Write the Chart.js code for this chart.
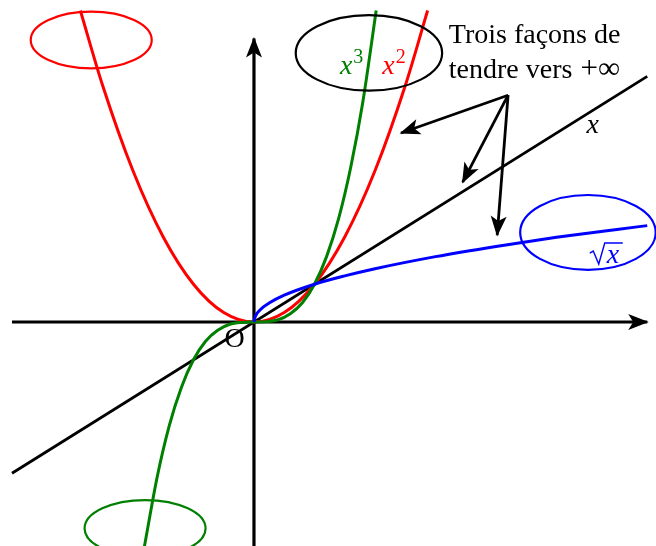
<!DOCTYPE html>
<html>
<head>
<meta charset="utf-8">
<script src="https://cdn.jsdelivr.net/npm/chart.js@4"></script>
<style>
  body { margin: 0; background: #fff; }
  canvas { display: block; }
</style>
</head>
<body>
<canvas id="plot" width="656" height="546"></canvas>
<script>
// points
const xLine = [-4, 6.5];
const yLine = [-4, 6.5];

const xSquare = [-2.87, -2.5, -2, -1.5, -1, -0.5, 0, 0.5, 1, 1.5, 2, 2.5, 2.87];
const ySquare = [8.24, 6.25, 4, 2.25, 1, 0.25, 0, 0.25, 1, 2.25, 4, 6.25, 8.24];

const xCube = [-1.81, -1.6, -1.4, -1.2, -1, -0.8, -0.6, -0.4, -0.2, 0, 0.2, 0.4, 0.6, 0.8, 1, 1.2, 1.4, 1.6, 1.8, 2.02];
const yCube = [-5.93, -4.1, -2.74, -1.73, -1, -0.51, -0.22, -0.06, -0.01, 0, 0.01, 0.06, 0.22, 0.51, 1, 1.73, 2.74, 4.1, 5.83, 8.24];

const xRoot = [0, 0.02, 0.1, 0.25, 0.5, 1, 1.5, 2, 3, 4, 5, 6, 6.5];
const yRoot = [0, 0.14, 0.32, 0.5, 0.71, 1, 1.22, 1.41, 1.73, 2, 2.24, 2.45, 2.55];

// axes ends
const xAxis = [-4, 6.5];
const yAxis = [-6, 7.5];

// the three arrows: one start, three tips
const arrowFrom = [4.2, 6];
const arrowTips = [[2.43, 5], [3.45, 3.7], [4.02, 2.3]];

const pts = (xs, ys) => xs.map((x, i) => ({ x: x, y: ys[i] }));

const curve = (data, color) => ({
    data: data,
    borderColor: color,
    borderWidth: 3,
    showLine: true,
    pointRadius: 0,
    cubicInterpolationMode: 'monotone',
});

const straight = (data, width) => ({
    data: data,
    borderColor: '#000',
    borderWidth: width,
    showLine: true,
    pointRadius: 0,
    tension: 0,
});

// ellipses around the curve ends (centre, radii in axis units)
const rings = [
    { cx: -2.69, cy: 7.46, rx: 1.0, ry: 0.75, color: '#ff0000' },
    { cx: 1.9, cy: 7.12, rx: 1.21, ry: 1.0, color: '#000000' },
    { cx: -1.8, cy: -5.46, rx: 1.0, ry: 0.75, color: '#008000' },
    { cx: 5.52, cy: 2.37, rx: 1.12, ry: 0.99, color: '#0000ff' },
];

function arrowHead(ctx, sx, sy, tx, ty) {
    const a = Math.atan2(ty - sy, tx - sx);
    ctx.save();
    ctx.translate(tx, ty);
    ctx.rotate(a);
    ctx.beginPath();
    ctx.moveTo(1.5, 0);
    ctx.lineTo(-19, 8);
    ctx.lineTo(-14, 0);
    ctx.lineTo(-19, -8);
    ctx.closePath();
    ctx.fillStyle = '#000';
    ctx.fill();
    ctx.restore();
}

const decor = {
    id: 'decor',
    afterDatasetsDraw(chart) {
        const { ctx } = chart;
        const sx = chart.scales.x, sy = chart.scales.y;
        const px = v => sx.getPixelForValue(v);
        const py = v => sy.getPixelForValue(v);
        ctx.save();

        rings.forEach(r => {
            ctx.beginPath();
            ctx.ellipse(px(r.cx), py(r.cy), px(r.rx) - px(0), py(0) - py(r.ry), 0, 0, 2 * Math.PI);
            ctx.strokeStyle = r.color;
            ctx.lineWidth = 2.2;
            ctx.stroke();
        });

        arrowHead(ctx, px(xAxis[0]), py(0), px(xAxis[1]), py(0));
        arrowHead(ctx, px(0), py(yAxis[0]), px(0), py(yAxis[1]));
        arrowTips.forEach(t => {
            arrowHead(ctx, px(arrowFrom[0]), py(arrowFrom[1]), px(t[0]), py(t[1]));
        });

        ctx.textBaseline = 'alphabetic';
        ctx.fillStyle = '#000';
        ctx.font = '28px "Liberation Serif"';
        ctx.textAlign = 'left';
        ctx.fillText('Trois façons de', px(3.22), py(7.38));
        const l2 = 'tendre vers ';
        ctx.fillText(l2, px(3.22), py(6.455));
        const w2 = ctx.measureText(l2).width;
        ctx.font = '31px "Liberation Serif"';
        ctx.fillText('+∞', px(3.22) + w2 + 1, py(6.455));
        ctx.font = '28px "Liberation Serif"';
        ctx.textAlign = 'center';
        ctx.fillText('O', px(-0.32), py(-0.66));

        ctx.font = 'italic 28px "Liberation Serif"';
        ctx.fillText('x', px(5.6), py(5.0));

        // x^3 and x^2
        ctx.textAlign = 'left';
        const power = (label, exp, x0, y0, color) => {
            ctx.fillStyle = color;
            ctx.font = 'italic 28px "Liberation Serif"';
            ctx.fillText(label, px(x0), py(y0));
            const w = ctx.measureText(label).width;
            ctx.font = '20px "Liberation Serif"';
            ctx.fillText(exp, px(x0) + w + 1, py(y0) - 11);
        };
        power('x', '3', 1.42, 6.57, '#008000');
        power('x', '2', 2.12, 6.57, '#ff0000');

        // sqrt(x), radical drawn as a stroke
        const rx = px(5.55), ry = py(1.56);
        ctx.strokeStyle = '#0000ff';
        ctx.fillStyle = '#0000ff';
        ctx.lineWidth = 1.4;
        ctx.beginPath();
        ctx.moveTo(rx, ry - 10);
        ctx.lineTo(rx + 3.5, ry - 12);
        ctx.lineTo(rx + 9, ry + 1);
        ctx.lineTo(rx + 15, ry - 20);
        ctx.lineTo(rx + 33, ry - 20);
        ctx.stroke();
        ctx.font = 'italic 28px "Liberation Serif"';
        ctx.fillText('x', rx + 17, ry);

        ctx.restore();
    }
};

new Chart(document.getElementById('plot'), {
    type: 'scatter',
    data: {
        datasets: [
            curve(pts(xRoot, yRoot), '#0000ff'),
            curve(pts(xCube, yCube), '#008000'),
            curve(pts(xSquare, ySquare), '#ff0000'),
            straight(pts(xLine, yLine), 2.8),
            ...arrowTips.map(t => straight(pts([arrowFrom[0], t[0]], [arrowFrom[1], t[1]]), 2.8)),
            straight(pts(xAxis, [0, 0]), 3.2),
            straight(pts([0, 0], yAxis), 3.2),
        ]
    },
    options: {
        responsive: false,
        animation: false,
        events: [],
        layout: { padding: 0 },
        plugins: { legend: { display: false }, tooltip: { enabled: false } },
        scales: {
            x: { type: 'linear', display: false, min: -4.198, max: 6.645 },
            y: { type: 'linear', display: false, min: -5.926, max: 8.519 },
        }
    },
    plugins: [decor]
});
</script>
</body>
</html>
